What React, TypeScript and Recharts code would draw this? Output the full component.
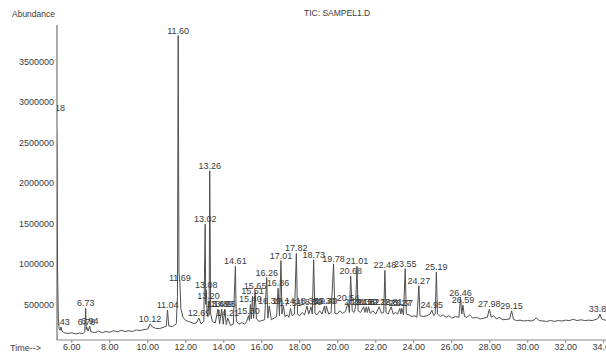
import React from 'react';
import { ComposedChart, Line, XAxis, YAxis, LabelList } from 'recharts';

// Labelled peaks (retention time in minutes, abundance)
const peakTimes = [
  5.18, 5.43, 6.73, 6.78, 6.94, 10.12, 11.04, 11.60, 11.69, 12.69,
  13.02, 13.08, 13.20, 13.26, 13.69, 13.89, 14.05, 14.21, 14.61, 15.30,
  15.40, 15.51, 15.65, 16.26, 16.39, 16.86, 17.01, 17.14, 17.51, 17.82,
  18.38, 18.59, 18.73, 19.30, 19.40, 19.78, 20.54, 20.68, 20.94, 21.01,
  21.36, 21.50, 21.62, 22.18, 22.48, 22.81, 23.27, 23.37, 23.55, 24.27,
  24.95, 25.19, 26.46, 26.59, 27.98, 29.15, 33.80,
];
const peakAbundance = [
  2860000, 220000, 450000, 220000, 230000, 260000, 430000, 3820000, 760000, 330000,
  1490000, 680000, 540000, 2150000, 440000, 440000, 440000, 330000, 970000, 360000,
  500000, 600000, 660000, 830000, 480000, 700000, 1040000, 480000, 450000, 1130000,
  480000, 470000, 1050000, 480000, 480000, 1000000, 520000, 850000, 470000, 970000,
  470000, 470000, 470000, 470000, 920000, 470000, 450000, 450000, 940000, 730000,
  430000, 900000, 580000, 490000, 440000, 420000, 380000,
];
const peakLabels = peakTimes.map((t) => t.toFixed(2));

// Unlabelled trace points between the peaks
const traceTimes = [
  5.22, 5.25, 5.29, 5.34, 5.38, 5.48, 5.6, 5.8, 6.0, 6.2, 6.4, 6.6, 6.68, 6.76, 6.86,
  7.0, 7.2, 7.4, 7.6, 7.8, 8.0, 8.2, 8.4, 8.6, 8.8, 9.0, 9.2, 9.4, 9.6, 9.8, 10.0,
  10.25, 10.4, 10.6, 10.8, 10.97, 11.1, 11.3, 11.5, 11.56, 11.64, 11.74, 11.85, 12.0,
  12.2, 12.4, 12.55, 12.8, 12.95, 13.05, 13.12, 13.16, 13.23, 13.31, 13.4, 13.55,
  13.78, 13.97, 14.13, 14.35, 14.5, 14.66, 14.8, 14.95, 15.1, 15.2, 15.35, 15.45,
  15.57, 15.72, 15.85, 16.0, 16.15, 16.32, 16.5, 16.65, 16.78, 16.93, 17.06, 17.22,
  17.35, 17.43, 17.6, 17.72, 17.88, 18.0, 18.12, 18.25, 18.47, 18.66, 18.8, 18.9,
  19.05, 19.17, 19.35, 19.52, 19.65, 19.85, 19.97, 20.1, 20.25, 20.4, 20.61, 20.76,
  20.86, 21.07, 21.2, 21.43, 21.56, 21.7, 21.85, 22.0, 22.3, 22.42, 22.54, 22.65,
  22.92, 23.05, 23.15, 23.32, 23.46, 23.61, 23.75, 23.9, 24.05, 24.17, 24.33, 24.5,
  24.7, 24.86, 25.05, 25.13, 25.25, 25.4, 25.55, 25.7, 25.85, 26.0, 26.2, 26.38,
  26.53, 26.67, 26.8, 26.95, 27.1, 27.3, 27.5, 27.7, 27.87, 28.08, 28.2, 28.35,
  28.5, 28.7, 28.9, 29.05, 29.25, 29.4, 29.6, 29.8, 30.0, 30.2, 30.35, 30.45, 30.6,
  30.8, 31.0, 31.2, 31.4, 31.6, 31.8, 32.0, 32.2, 32.4, 32.6, 32.8, 33.0, 33.2,
  33.4, 33.6, 33.72, 33.88, 34.0, 34.12,
];
const traceAbundance = [
  2400000, 900000, 320000, 200000, 180000, 170000, 150000, 140000, 150000, 135000, 145000, 140000, 160000, 190000, 170000,
  165000, 150000, 170000, 150000, 165000, 155000, 175000, 160000, 180000, 165000, 175000, 165000, 185000, 175000, 190000, 195000,
  220000, 205000, 200000, 215000, 230000, 235000, 225000, 260000, 600000, 900000, 450000, 340000, 300000,
  285000, 265000, 270000, 260000, 290000, 500000, 400000, 350000, 420000, 380000, 290000, 270000,
  260000, 255000, 250000, 240000, 255000, 290000, 255000, 275000, 255000, 285000, 300000, 320000,
  330000, 320000, 290000, 300000, 310000, 330000, 310000, 330000, 350000, 360000, 380000, 350000,
  370000, 340000, 360000, 380000, 380000, 360000, 400000, 370000, 380000, 380000, 390000, 370000,
  420000, 380000, 390000, 380000, 400000, 390000, 380000, 420000, 390000, 410000, 400000, 420000,
  400000, 420000, 400000, 400000, 400000, 390000, 420000, 380000, 390000, 400000, 400000, 380000,
  380000, 400000, 380000, 380000, 370000, 380000, 370000, 350000, 360000, 340000, 360000, 350000,
  360000, 380000, 360000, 380000, 380000, 350000, 370000, 340000, 360000, 330000, 350000, 340000,
  380000, 350000, 340000, 370000, 330000, 340000, 320000, 330000, 340000, 340000, 360000, 320000,
  340000, 310000, 315000, 320000, 315000, 300000, 305000, 295000, 300000, 295000, 310000, 335000, 300000,
  295000, 290000, 300000, 290000, 300000, 295000, 305000, 300000, 315000, 300000, 310000, 300000, 305000,
  300000, 315000, 330000, 320000, 310000, 305000,
];

const xTicks = [6, 8, 10, 12, 14, 16, 18, 20, 22, 24, 26, 28, 30, 32, 34];
const yTicks = [500000, 1000000, 1500000, 2000000, 2500000, 3000000, 3500000];

const peaks = peakTimes.map((t, i) => ({ t, v: peakAbundance[i], label: peakLabels[i] }));
const trace = [
  ...peaks.map((p) => ({ t: p.t, v: p.v })),
  ...traceTimes.map((t, i) => ({ t, v: traceAbundance[i] })),
].sort((a, b) => a.t - b.t);

const FONT = '"Liberation Sans", Arial, sans-serif';

const PeakLabel = (props: any) => {
  const { x, y, value } = props;
  if (value === undefined || value === null) return null;
  return (
    <text
      x={x}
      y={y - 2}
      textAnchor="middle"
      fontSize={9}
      fontFamily={FONT}
      fill="#3a3a3a"
      clipPath="url(#plotClipLabels)"
    >
      {value}
    </text>
  );
};

export default function App() {
  return (
    <div style={{ position: 'relative', width: 606, height: 355, background: '#fff', fontFamily: FONT, overflow: 'hidden' }}>
      <style>{`body{margin:0;}`}</style>
      <ComposedChart
        width={606}
        height={355}
        margin={{ top: 25, right: 0, bottom: 0, left: 0 }}
      >
        <defs>
          <clipPath id="plotClipLabels">
            <rect x={57} y={0} width={549} height={355} />
          </clipPath>
        </defs>
        <XAxis
          dataKey="t"
          type="number"
          domain={[5.22, 34.12]}
          allowDataOverflow
          ticks={xTicks}
          interval={0}
          tickFormatter={(v: number) => v.toFixed(2)}
          height={15}
          tickSize={3}
          tickMargin={1}
          stroke="#888"
          tick={{ fill: '#3a3a3a', fontSize: 9, fontFamily: FONT }}
        />
        <YAxis
          type="number"
          domain={[60000, 3950000]}
          allowDataOverflow
          ticks={yTicks}
          interval={0}
          width={57}
          tickSize={0}
          tickMargin={3}
          tickLine={false}
          stroke="#555"
          tick={{ fill: '#3a3a3a', fontSize: 9, fontFamily: FONT }}
        />
        <Line
          data={trace}
          dataKey="v"
          type="linear"
          stroke="#505050"
          strokeWidth={1}
          dot={false}
          isAnimationActive={false}
        />
        <Line
          data={peaks}
          dataKey="v"
          stroke="none"
          dot={false}
          isAnimationActive={false}
        >
          <LabelList dataKey="label" content={<PeakLabel />} />
        </Line>
      </ComposedChart>
      <div style={{ position: 'absolute', left: 12, top: 9, fontSize: 8.5, color: '#3a3a3a', lineHeight: '11px' }}>Abundance</div>
      <div style={{ position: 'absolute', left: 304, top: 8, fontSize: 8.5, color: '#3a3a3a', lineHeight: '11px' }}>TIC: SAMPEL1.D</div>
      <div style={{ position: 'absolute', left: 10, top: 343, fontSize: 9, color: '#3a3a3a', lineHeight: '11px' }}>Time--&gt;</div>
    </div>
  );
}
